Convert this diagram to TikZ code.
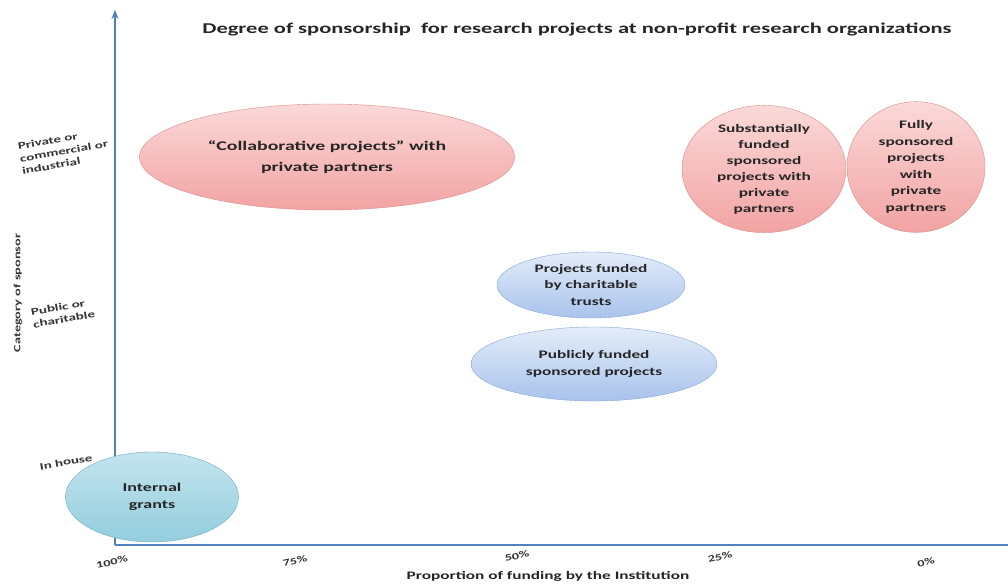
\documentclass[tikz,border=0pt]{standalone}
\usepackage{fontspec}
\setmainfont{Carlito}[FakeStretch=1.5]
\usetikzlibrary{shapes.geometric,arrows.meta}
\definecolor{axisblue}{HTML}{4F81BD}
\definecolor{pinkA}{HTML}{FBD9D9}
\definecolor{pinkB}{HTML}{F2A3A3}
\definecolor{pinkEdge}{HTML}{D98A88}
\definecolor{blueA}{HTML}{E3ECF9}
\definecolor{blueB}{HTML}{A9C3EC}
\definecolor{blueEdge}{HTML}{86A6D6}
\definecolor{tealA}{HTML}{C3E4EE}
\definecolor{tealB}{HTML}{93CDDD}
\definecolor{tealEdge}{HTML}{6FAFC2}
\tikzset{
  x=1pt, y=-1pt,
  bubble/.style={ellipse, inner sep=0pt, align=center, font=\bfseries\fontsize{11.5}{16.5}\selectfont, text=black!85},
  pinkbubble/.style={bubble, draw=pinkEdge, top color=pinkA, bottom color=pinkB},
  bluebubble/.style={bubble, draw=blueEdge, top color=blueA, bottom color=blueB},
  tealbubble/.style={bubble, draw=tealEdge, top color=tealA, bottom color=tealB},
  axis/.style={draw=axisblue, line width=1.2pt},
  cat/.style={font=\bfseries\fontsize{10}{12.5}\selectfont, align=left, rotate=10, text=black!80, inner sep=0pt},
  tick/.style={font=\bfseries\fontsize{9.5}{11}\selectfont, rotate=12, text=black!80, inner sep=0pt},
}
\begin{document}
\begin{tikzpicture}
\useasboundingbox[fill=white] (0,0) rectangle (1008,583);

% axes
\coordinate (origin) at (115,545);
\coordinate (ytop) at (115,10);
\coordinate (xend) at (1008,545);
\draw[axis, -{Stealth[length=9pt,width=7pt]}] (origin) -- (ytop);
\draw[axis] (origin) -- (xend);

% title
\node[font=\bfseries\fontsize{15}{17}\selectfont, text=black!85] (title) at (577,29)
  {Degree of sponsorship \ for research projects at non-profit research organizations};

% axis titles
\node[font=\bfseries\fontsize{9.5}{12}\selectfont, rotate=90, text=black!80] (ylab) at (18,293) {Category of sponsor};
\node[font=\bfseries\fontsize{11.5}{13}\selectfont, text=black!85] (xlab) at (548,576) {Proportion of funding by the Institution};

% sponsor categories
\node[cat] (private) at (64,151) {Private or\\commercial or\\industrial};
\node[cat] (public) at (63,313) {Public or\\charitable};
\node[cat] (inhouse) at (66,462) {In house};

% funding ticks
\node[tick] (p100) at (112,562) {100\%};
\node[tick] (p75) at (295,561) {75\%};
\node[tick] (p50) at (517,556) {50\%};
\node[tick] (p25) at (720,557) {25\%};
\node[tick] (p0) at (926,562) {0\%};

% projects
\node[pinkbubble, minimum width=375pt, minimum height=106pt, font=\bfseries\fontsize{13.2}{21}\selectfont] (collab) at (327,157)
  {``Collaborative projects'' with\\private partners};
\node[pinkbubble, minimum width=164pt, minimum height=112pt, font=\bfseries\fontsize{11.5}{16}\selectfont] (subst) at (764,169)
  {Substantially\\funded\\sponsored\\projects with\\private\\partners};
\node[pinkbubble, minimum width=138pt, minimum height=106pt] (fully) at (916,167)
  {Fully\\sponsored\\projects\\with\\private\\partners};
\node[bluebubble, minimum width=188pt, minimum height=66pt] (trusts) at (591,285)
  {Projects funded\\by charitable\\trusts};
\node[bluebubble, minimum width=246pt, minimum height=74pt] (publicly) at (594,364)
  {Publicly funded\\sponsored projects};
\node[tealbubble, minimum width=173pt, minimum height=90pt, font=\bfseries\fontsize{12}{17}\selectfont] (internal) at (152,497)
  {Internal\\grants};
\end{tikzpicture}
\end{document}
